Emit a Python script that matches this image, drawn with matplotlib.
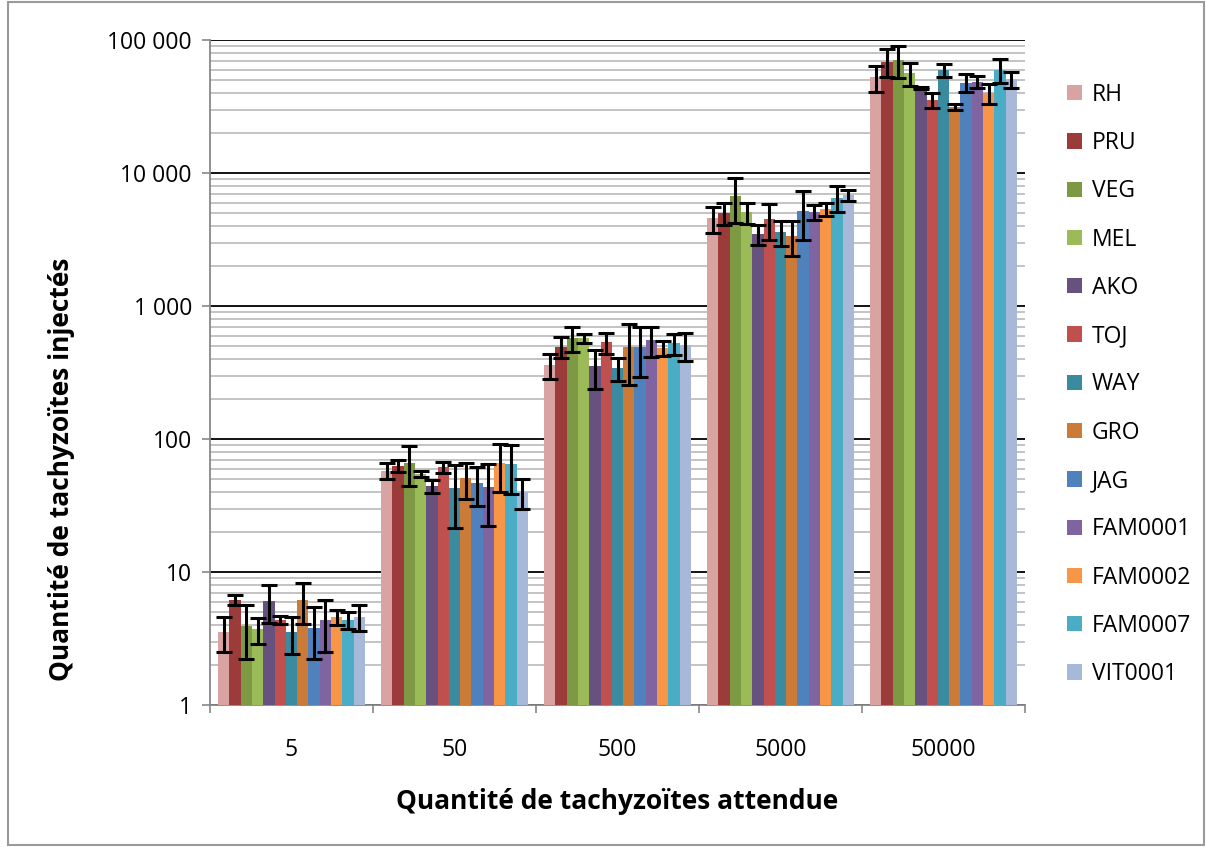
import numpy as np
import matplotlib
matplotlib.use("Agg")
import matplotlib.pyplot as plt
from matplotlib.ticker import FixedLocator, NullFormatter
from matplotlib.patches import Rectangle

plt.rcParams['font.family'] = ['Open Sans', 'DejaVu Sans']

categories = ["5", "50", "500", "5000", "50000"]
strains = ["RH", "PRU", "VEG", "MEL", "AKO", "TOJ", "WAY", "GRO", "JAG",
           "FAM0001", "FAM0002", "FAM0007", "VIT0001"]
colors = ["#D9A3A2", "#9B3B3A", "#7E9944", "#9BBB59", "#67517F", "#C0504D",
          "#3A8AA0", "#CC7A38", "#4F81BD", "#8064A2", "#F79646", "#4BACC6",
          "#A8B8D9"]

# mean values per strain, for categories 5, 50, 500, 5000, 50000
RH      = [3.56, 57.8, 360, 4565, 52500]
PRU     = [6.2, 63.0, 494, 5035, 68700]
VEG     = [3.9, 66.3, 572, 6700, 70800]
MEL     = [3.7, 54.6, 572, 5060, 56200]
AKO     = [6.05, 44.3, 354, 3475, 43300]
TOJ     = [4.35, 61.3, 532, 4510, 35400]
WAY     = [3.52, 42.6, 340, 3580, 59500]
GRO     = [6.16, 50.7, 494, 3360, 31500]
JAG     = [3.81, 46.5, 494, 5210, 47800]
FAM0001 = [4.35, 43.8, 555, 5115, 48700]
FAM0002 = [4.57, 65.6, 481, 5335, 39800]
FAM0007 = [4.35, 64.5, 524, 6530, 59500]
VIT0001 = [4.61, 39.7, 509, 6840, 50700]

# error (± standard deviation)
RH_err      = [1.05, 7.8, 78, 1000, 11700]
PRU_err     = [0.55, 6.3, 90, 955, 16300]
VEG_err     = [1.7, 22, 120, 2500, 18700]
MEL_err     = [0.8, 3.0, 47, 900, 11400]
AKO_err     = [1.9, 5.3, 115, 600, 800]
TOJ_err     = [0.3, 5.6, 100, 1360, 4600]
WAY_err     = [1.1, 21, 67, 745, 6600]
GRO_err     = [2.1, 15.5, 240, 1000, 1600]
JAG_err     = [1.6, 15, 200, 2070, 7300]
FAM0001_err = [1.85, 21.5, 145, 665, 5300]
FAM0002_err = [0.6, 25.5, 63, 625, 6800]
FAM0007_err = [0.65, 26, 94, 1410, 12400]
VIT0001_err = [1.0, 10, 120, 630, 6900]

values = [RH, PRU, VEG, MEL, AKO, TOJ, WAY, GRO, JAG, FAM0001, FAM0002, FAM0007, VIT0001]
errors = [RH_err, PRU_err, VEG_err, MEL_err, AKO_err, TOJ_err, WAY_err, GRO_err,
          JAG_err, FAM0001_err, FAM0002_err, FAM0007_err, VIT0001_err]

fig = plt.figure(figsize=(12.06, 8.47), dpi=100)
ax = fig.add_axes([210/1206, 1 - 705/847, (1025 - 210)/1206, (705 - 40)/847])

n = len(strains)
group_w = 0.90
bw = group_w / n
x = np.arange(len(categories))

for i, (name, vals, errs, col) in enumerate(zip(strains, values, errors, colors)):
    pos = x - group_w/2 + bw*(i + 0.5)
    ax.bar(pos, vals, width=bw, color=col, label=name, zorder=3, bottom=0.0001)
    ax.errorbar(pos, vals, yerr=errs, fmt='none', ecolor='black', elinewidth=2.2,
                capsize=5.5, capthick=2.2, zorder=4)

ax.set_yscale('log')
ax.set_ylim(1, 100000)
ax.set_xlim(-0.5, len(categories) - 0.5)

major = [1, 10, 100, 1000, 10000, 100000]
ax.yaxis.set_major_locator(FixedLocator(major))
ax.set_yticklabels(["1", "10", "100", "1 000", "10 000", "100 000"])
minor = [m * 10**d for d in range(0, 5) for m in range(2, 10)]
ax.yaxis.set_minor_locator(FixedLocator(minor))
ax.yaxis.set_minor_formatter(NullFormatter())
ax.grid(True, which='major', axis='y', color='black', linewidth=1.3, zorder=1)
ax.grid(True, which='minor', axis='y', color='#BEBEBE', linewidth=1.3, zorder=1)
ax.tick_params(axis='y', which='minor', length=0)
ax.tick_params(axis='y', which='major', length=6, width=1.2, color='#878787',
               labelsize=16.5, pad=7)

ax.set_xticks(x)
ax.set_xticklabels(categories)
ax.set_xticks(np.arange(len(categories) + 1) - 0.5, minor=True)
ax.tick_params(axis='x', which='major', length=0, labelsize=16.5, pad=24)
ax.tick_params(axis='x', which='minor', length=6, width=1.2, color='#878787')

for s in ['top', 'right']:
    ax.spines[s].set_visible(False)
for s in ['left', 'bottom']:
    ax.spines[s].set_color('#878787')
    ax.spines[s].set_linewidth(1.3)

ax.set_xlabel("Quantité de tachyzoïtes attendue", fontsize=19, fontweight='bold')
ax.xaxis.set_label_coords(0.5, -(788 - 705) / (705 - 40), transform=ax.transAxes)
ax.set_ylabel("Quantité de tachyzoïtes injectés", fontsize=19, fontweight='bold')
ax.yaxis.set_label_coords((75 - 210) / (1025 - 210), (705 - 469) / (705 - 40),
                          transform=ax.transAxes)

leg = fig.legend(loc='upper left', bbox_to_anchor=(1046/1206, 1 - 62/847),
                 frameon=False, fontsize=16.5, handlelength=0.65, handleheight=0.65,
                 labelspacing=1.06, handletextpad=0.45)

fig.patches.append(Rectangle((8/1206, 2/847), 1196/1206, 843/847, transform=fig.transFigure,
                             fill=False, edgecolor='#9A9A9A', linewidth=1.5))

fig.savefig("out.png", dpi=100)
